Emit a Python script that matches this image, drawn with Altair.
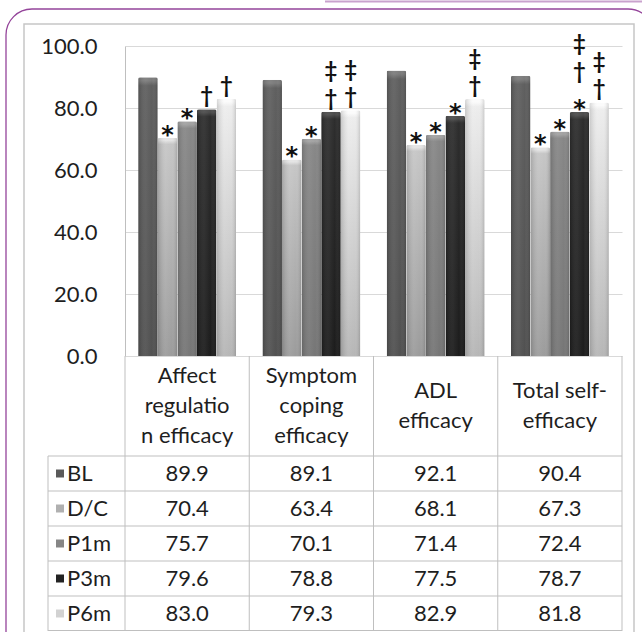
import altair as alt
import pandas as pd

# ---- data -------------------------------------------------------------
categories = [
    "Affect regulation efficacy",
    "Symptom coping efficacy",
    "ADL efficacy",
    "Total self-efficacy",
]
header_text = [
    "Affect\nregulatio\nn efficacy",
    "Symptom\ncoping\nefficacy",
    "ADL\nefficacy",
    "Total self-\nefficacy",
]
series = ["BL", "D/C", "P1m", "P3m", "P6m"]

bl = [89.9, 89.1, 92.1, 90.4]
dc = [70.4, 63.4, 68.1, 67.3]
p1m = [75.7, 70.1, 71.4, 72.4]
p3m = [79.6, 78.8, 77.5, 78.7]
p6m = [83.0, 79.3, 82.9, 81.8]

# significance markers per bar, listed from the bar top upwards
sig_bl = ["", "", "", ""]
sig_dc = ["*", "*", "*", "*"]
sig_p1m = ["*", "*", "*", "*"]
sig_p3m = ["†", "†‡", "*", "*†‡"]
sig_p6m = ["†", "†‡", "†‡", "†‡"]

series_values = [bl, dc, p1m, p3m, p6m]
series_sig = [sig_bl, sig_dc, sig_p1m, sig_p3m, sig_p6m]

# ---- styling ----------------------------------------------------------
FONT = "Lato"
FS = 22
TEXT = "#1e1e1e"
LINE = "#bfbfbf"
GRID = "#d9d9d9"
LINE_H = 30

# (cap highlight, body top, body bottom) for the bevelled bars
shades = {
    "BL": ("#7c7c7c", "#5f5f5f", "#515151"),
    "D/C": ("#e4e4e4", "#c6c6c6", "#9c9c9c"),
    "P1m": ("#a2a2a2", "#878787", "#767676"),
    "P3m": ("#4c4c4c", "#2d2d2d", "#1c1c1c"),
    "P6m": ("#fbfbfb", "#ededed", "#b6b6b6"),
}
swatch_colors = ["#5a5a5a", "#b0b0b0", "#868686", "#232323", "#d2d2d2"]

W, H = 497, 585          # plot area: bars + category header + data table
BAR_H = 310              # height of the bar panel
HEAD_H = 100             # height of the category header row
ROW_LEFT = -77           # left edge of the legend column of the table

rows = []
ann = []
for s, vals, sigs in zip(series, series_values, series_sig):
    for c, v, m in zip(categories, vals, sigs):
        rows.append({"category": c, "series": s, "value": v})
        for lvl, ch in enumerate(m):
            ann.append({"category": c, "series": s, "value": v,
                        "symbol": ch, "level": lvl})
df = pd.DataFrame(rows)
ann_df = pd.DataFrame(ann)
series_df = pd.DataFrame({"series": series})
cat_df = pd.DataFrame({"category": categories, "label": header_text})
cat_df["nlines"] = cat_df["label"].str.count("\n") + 1
one = pd.DataFrame({"k": [0]})

x_scale = alt.Scale(domain=categories, paddingInner=0, paddingOuter=0)
xo_scale = alt.Scale(domain=series, paddingInner=0, paddingOuter=0.67)
y_bar = alt.Scale(domain=[0, 100], range=[BAR_H, 0], nice=False, zero=True)
y_tab = alt.Scale(domain=series, range=[BAR_H + HEAD_H, H],
                  paddingInner=0, paddingOuter=0)

y_axis = alt.Axis(
    values=[0, 20, 40, 60, 80, 100], format=".1f", title=None,
    labelFont=FONT, labelFontSize=FS, labelColor=TEXT, labelPadding=28,
    ticks=False, tickSize=0, domainColor=LINE, domainWidth=1,
    gridColor=GRID, gridWidth=1,
)

X = alt.X("category:N", scale=x_scale, axis=None)
XO = alt.XOffset("series:N", scale=xo_scale)
YB = alt.Y("value:Q", scale=y_bar, axis=y_axis)

# ---- bars -------------------------------------------------------------
bar_layers = []
for s in series:
    cap, top, bottom = shades[s]
    grad = alt.Gradient(
        gradient="linear", x1=0, x2=0, y1=0, y2=1,
        stops=[
            alt.GradientStop(color=cap, offset=0),
            alt.GradientStop(color=cap, offset=0.012),
            alt.GradientStop(color=top, offset=0.03),
            alt.GradientStop(color=bottom, offset=1),
        ],
    )
    bar_layers.append(
        alt.Chart(df).transform_filter(alt.datum.series == s)
        .mark_bar(color=grad, cornerRadiusTopLeft=2, cornerRadiusTopRight=2)
        .encode(x=X, xOffset=XO, y=YB)
    )

# soft cylinder shading across every bar
side_shade = alt.Gradient(
    gradient="linear", x1=0, x2=1, y1=0, y2=0,
    stops=[
        alt.GradientStop(color="rgba(0,0,0,0.16)", offset=0),
        alt.GradientStop(color="rgba(255,255,255,0.06)", offset=0.4),
        alt.GradientStop(color="rgba(255,255,255,0.0)", offset=0.7),
        alt.GradientStop(color="rgba(0,0,0,0.16)", offset=1),
    ],
)
bar_layers.append(
    alt.Chart(df).mark_bar(color=side_shade, cornerRadiusTopLeft=2,
                           cornerRadiusTopRight=2)
    .encode(x=X, xOffset=XO, y=YB)
)

# ---- significance markers ----------------------------------------------
sym_font = {"*": "DejaVu Sans", "†": FONT, "‡": FONT}
sym_size = {"*": 24, "†": 22, "‡": 22}
base_dy = {"*": 5, "†": -6, "‡": -6}
STEP = 27.5
combos = sorted({(a["symbol"], a["level"]) for a in ann})
for sym, lvl in combos:
    bar_layers.append(
        alt.Chart(ann_df)
        .transform_filter((alt.datum.symbol == sym) & (alt.datum.level == lvl))
        .mark_text(font=sym_font[sym], fontSize=sym_size[sym], fontWeight="bold",
                   color="#111111", baseline="alphabetic",
                   dy=base_dy[sym] - STEP * lvl)
        .encode(x=X, xOffset=XO, y=YB, text="symbol:N")
    )

bars_group = alt.layer(*bar_layers)

# ---- data table ---------------------------------------------------------
YT = alt.Y("series:N", scale=y_tab, axis=None)

table_values = alt.Chart(df).mark_text(
    font=FONT, fontSize=FS, color=TEXT, baseline="middle", align="center"
).encode(x=X, y=YT, text=alt.Text("value:Q", format=".1f"))

row_labels = alt.Chart(series_df).mark_text(
    font=FONT, fontSize=FS, color=TEXT, baseline="middle", align="left"
).encode(x=alt.value(ROW_LEFT + 19), y=YT, text="series:N")

swatches = alt.Chart(series_df).mark_square(size=64, opacity=1).encode(
    x=alt.value(ROW_LEFT + 12), y=YT,
    color=alt.Color("series:N", scale=alt.Scale(domain=series, range=swatch_colors),
                    legend=None),
)

row_lines = alt.Chart(series_df).mark_rule(color=LINE, strokeWidth=1).encode(
    y=alt.Y("series:N", scale=y_tab, axis=None, bandPosition=0),
    x=alt.value(ROW_LEFT), x2=alt.value(W),
)

table_group = alt.layer(row_lines, swatches, row_labels, table_values)

# column dividers of the header and the table
col_lines = alt.Chart(cat_df).mark_rule(color=LINE, strokeWidth=1).encode(
    x=alt.X("category:N", scale=x_scale, axis=None, bandPosition=0),
    y=alt.value(BAR_H), y2=alt.value(H),
)
edges = alt.layer(
    alt.Chart(one).mark_rule(color=LINE, strokeWidth=1).encode(
        x=alt.value(W), y=alt.value(BAR_H), y2=alt.value(H)),
    alt.Chart(one).mark_rule(color=LINE, strokeWidth=1).encode(
        x=alt.value(ROW_LEFT), y=alt.value(BAR_H + HEAD_H), y2=alt.value(H)),
    alt.Chart(one).mark_rule(color=LINE, strokeWidth=1).encode(
        x=alt.value(ROW_LEFT), x2=alt.value(W), y=alt.value(H - 0.5)),
)

# category names, each block centred vertically in the header row
header_layers = []
for n in sorted(cat_df["nlines"].unique()):
    header_layers.append(
        alt.Chart(cat_df).transform_filter(alt.datum.nlines == int(n))
        .mark_text(font=FONT, fontSize=FS, color=TEXT, lineBreak="\n",
                   lineHeight=LINE_H, baseline="middle", align="center",
                   dy=-(int(n) - 1) * LINE_H / 2)
        .encode(x=X, y=alt.value(BAR_H + HEAD_H / 2), text="label:N")
    )
header = alt.layer(*header_layers)

# ---- page frames -----------------------------------------------------------
frames = alt.layer(
    alt.Chart(one).mark_rule(color="#c9a2cd", strokeWidth=2).encode(
        x=alt.value(200), x2=alt.value(530), y=alt.value(-44.5)),
    alt.Chart(one).mark_rect(fillOpacity=0, stroke="#94449a", strokeWidth=1.3,
                             cornerRadius=26).encode(
        x=alt.value(-119), x2=alt.value(529), y=alt.value(-37), y2=alt.value(660)),
    alt.Chart(one).mark_rect(fillOpacity=0, stroke="#c6c6c6", strokeWidth=1.5).encode(
        x=alt.value(-101), x2=alt.value(509), y=alt.value(-22), y2=alt.value(640)),
)

chart = (
    alt.layer(frames, bars_group, table_group, col_lines, edges, header)
    .resolve_scale(y="independent")
    .properties(
        width=W, height=H,
        padding={"left": 125, "top": 46, "right": 20, "bottom": 1},
        autosize=alt.AutoSizeParams(type="none"),
        background="white",
    )
    .configure_view(stroke=None)
)

chart.save("out.html", embed_options={"renderer": "svg", "actions": False})
